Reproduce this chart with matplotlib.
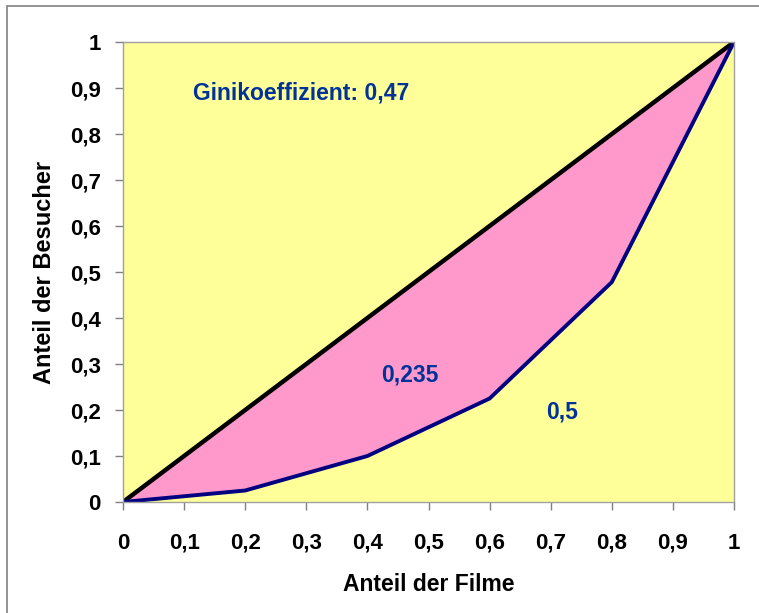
import matplotlib.pyplot as plt
from matplotlib.patches import Rectangle

# Lorenz-Kurve (Anteil der Filme vs. Anteil der Besucher)
anteil_filme = [0, 0.2, 0.4, 0.6, 0.8, 1.0]
anteil_besucher = [0, 0.025, 0.1, 0.225, 0.478, 1.0]
ticks = [0, 0.1, 0.2, 0.3, 0.4, 0.5, 0.6, 0.7, 0.8, 0.9, 1.0]
tick_labels = ['0', '0,1', '0,2', '0,3', '0,4', '0,5', '0,6', '0,7', '0,8', '0,9', '1']

plt.rcParams['font.family'] = ['Liberation Sans', 'DejaVu Sans']
plt.rcParams['font.weight'] = 'bold'

fig = plt.figure(figsize=(7.59, 6.13), dpi=100)
W, H = 759, 613
ax = fig.add_axes([123 / W, 1 - 502 / H, 611 / W, 460 / H])

# grauer Rahmen (nur links und oben sichtbar)
fig.patches.append(Rectangle((7 / W, -0.1), 2, (1 - 6 / H) + 0.1, transform=fig.transFigure,
                             fill=False, edgecolor='#808080', linewidth=1.2))

ax.set_facecolor('#FFFF99')
ax.fill_between(anteil_filme, anteil_filme, anteil_besucher, color='#FF99CC', linewidth=0)
ax.plot([0, 1], [0, 1], color='black', linewidth=3.2, solid_capstyle='round')
ax.plot(anteil_filme, anteil_besucher, color='#000080', linewidth=2.8, solid_joinstyle='miter')

ax.set_xlim(0, 1)
ax.set_ylim(0, 1)
ax.set_xticks(ticks)
ax.set_xticklabels(tick_labels)
ax.set_yticks(ticks)
ax.set_yticklabels(tick_labels)
ax.tick_params(axis='both', colors='#808080', labelcolor='black', labelsize=16,
               length=6, width=1, direction='out')
ax.tick_params(axis='x', pad=16)
ax.tick_params(axis='y', pad=10)
for s in ax.spines.values():
    s.set_color('#A0A0A0')
    s.set_linewidth(1)

ax.set_xlabel('Anteil der Filme', fontsize=16.5, fontweight='bold')
ax.set_ylabel('Anteil der Besucher', fontsize=17, fontweight='bold')
ax.xaxis.set_label_coords(0.5, -0.155)
ax.yaxis.set_label_coords(-0.110, 0.5)

txt_color = '#003399'
ax.text(0.292, 0.89, 'Ginikoeffizient: 0,47', color=txt_color, fontsize=16.5,
        fontweight='bold', ha='center', va='center')
ax.text(0.47, 0.276, '0,235', color=txt_color, fontsize=16.5,
        fontweight='bold', ha='center', va='center')
ax.text(0.718, 0.196, '0,5', color=txt_color, fontsize=16.5,
        fontweight='bold', ha='center', va='center')

fig.savefig('out.png', dpi=100)
